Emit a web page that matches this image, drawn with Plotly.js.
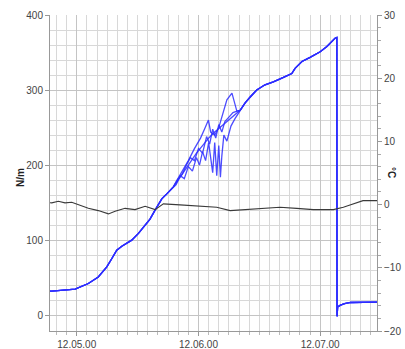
<!DOCTYPE html>
<html>
<head>
<meta charset="utf-8">
<script src="https://cdn.plot.ly/plotly-3.0.1.min.js"></script>
<style>html,body{margin:0;padding:0;background:#fff;}#chart{width:405px;height:349px;}</style>
</head>
<body>
<div id="chart"></div>
<script>
// time in seconds relative to 12.05.00
const xTickVals = [0, 60, 120];
const xTickText = ['12.05.00', '12.06.00', '12.07.00'];

// shared force curve before the branches split (N/m)
const baseT = [-13.2, -12.3, -0.8, 5.7, 10.6, 14.8, 17.3, 19.7, 22.2, 27.1, 30.4, 33.7, 36.1, 38.6, 41.9, 44.5, 47.6];
const baseV = [32, 32, 34.7, 42.3, 51, 64.4, 75.6, 86.7, 92, 100, 109, 120, 128, 140, 155, 162, 171];

// shared force curve after the branches rejoin, incl. the drop
const topT = [80.5, 83, 85.5, 88.7, 92.8, 96.9, 101.9, 106, 107.6, 111, 115, 120, 123.3, 127.3, 128.2, 128.3, 128.6, 130, 132, 135, 140, 148];
const topV = [273, 283, 291, 300, 307, 311, 317, 322, 329, 338, 343.6, 351, 358, 369, 370, -1.5, 11, 13.5, 15.5, 17, 17.6, 17.6];

// branch segments (time, value)
const branchAT = [50, 53, 56, 59, 62, 65, 68, 71, 74, 77, 79];
const branchAV = [180, 192, 205, 216, 226, 236, 244, 251, 258, 265, 270];
const branchBT = [49, 52, 55, 58, 61, 63, 64.9, 66, 68, 70, 72, 74, 76.5, 78.9];
const branchBV = [178, 192, 206, 222, 236, 248, 260, 244, 240, 250, 268, 287, 296, 272];
const branchCT = [49, 51, 53, 55, 57, 59, 60.5, 62, 63.5, 65, 66, 67, 68, 69, 70, 70.8, 71.5, 72.5, 74, 76, 78];
const branchCV = [174, 186, 182, 198, 192, 210, 200, 218, 206, 230, 208, 190, 230, 186, 226, 184, 212, 240, 232, 252, 262];
const branchDT = [50, 52, 54, 56, 58, 60, 62, 64, 65.5, 67, 68.5, 70, 71.5, 73, 75, 77, 79];
const branchDV = [182, 188, 200, 210, 206, 222, 216, 238, 228, 248, 236, 254, 244, 258, 264, 270, 272];

// temperature (°C, right axis)
const tempT = [-13.2, -12.3, -9.1, -5.8, -2.5, 0.8, 5.7, 10.6, 15.6, 18.9, 23.8, 28.7, 33.7, 38.6, 42.7, 50.9, 60.8, 69, 75.6, 82.1, 92, 100.2, 108.4, 116.6, 126.5, 131.4, 134.7, 141.1, 148];
const tempV = [0.3, 0.27, 0.52, 0.27, 0.36, -0.05, -0.59, -0.95, -1.47, -1.06, -0.59, -0.79, -0.27, -0.79, 0.11, -0.05, -0.27, -0.43, -0.95, -0.79, -0.59, -0.43, -0.59, -0.79, -0.79, -0.43, -0.05, 0.63, 0.63];

const branches = [[branchAT, branchAV], [branchBT, branchBV], [branchCT, branchCV], [branchDT, branchDV]];
const blue = 'rgba(45,45,255,0.85)';
const traces = branches.map(([bt, bv]) => ({
  x: baseT.concat(bt, topT),
  y: baseV.concat(bv, topV),
  type: 'scatter', mode: 'lines',
  line: {color: blue, width: 1.3},
  hoverinfo: 'skip', showlegend: false
}));
traces.push({
  x: tempT, y: tempV, yaxis: 'y2',
  type: 'scatter', mode: 'lines',
  line: {color: '#3a3a3a', width: 1.1},
  hoverinfo: 'skip', showlegend: false
});

const font = {family: 'Liberation Sans, Arial, sans-serif', size: 10, color: '#444'};
const layout = {
  width: 405, height: 349,
  margin: {l: 50, r: 28, t: 15, b: 18, pad: 0},
  paper_bgcolor: '#fff', plot_bgcolor: '#fff',
  font: font,
  xaxis: {
    range: [-13.2, 148],
    tickmode: 'array', tickvals: xTickVals, ticktext: xTickText,
    ticks: 'outside', ticklen: 4, tickcolor: '#999',
    showgrid: true, gridcolor: '#c4c4c4', gridwidth: 1,
    showline: true, linecolor: '#999', linewidth: 1,
    zeroline: false, tickfont: font,
    minor: {tick0: 0, dtick: 5, showgrid: true, gridcolor: '#d8d8d8', gridwidth: 1, ticks: 'outside', ticklen: 3, tickcolor: '#bbb'}
  },
  yaxis: {
    range: [-21, 400],
    tickmode: 'linear', tick0: 0, dtick: 100,
    ticks: 'outside', ticklen: 4, tickcolor: '#999',
    showgrid: true, gridcolor: '#c4c4c4', gridwidth: 1,
    showline: true, linecolor: '#999', linewidth: 1,
    zeroline: false, tickfont: font,
    minor: {tick0: 0, dtick: 20, showgrid: true, gridcolor: '#d8d8d8', gridwidth: 1}
  },
  yaxis2: {
    overlaying: 'y', side: 'right',
    range: [-20, 30],
    tickmode: 'linear', tick0: 0, dtick: 10,
    ticks: 'outside', ticklen: 4, tickcolor: '#999',
    showgrid: false, zeroline: false,
    showline: true, linecolor: '#999', linewidth: 1,
    tickfont: font,
    minor: {tick0: 0, dtick: 2, ticks: 'outside', ticklen: 3, tickcolor: '#aaa', showgrid: false}
  },
  annotations: [
    {text: '<b>N/m</b>', xref: 'paper', yref: 'paper', x: -0.092, y: 0.487, showarrow: false, textangle: -90,
     font: {family: 'Liberation Sans, Arial, sans-serif', size: 10, color: '#222'}, xanchor: 'center', yanchor: 'middle'},
    {text: '<b>°C</b>', xref: 'paper', yref: 'paper', x: 1.046, y: 0.503, showarrow: false, textangle: 90,
     font: {family: 'Liberation Sans, Arial, sans-serif', size: 10, color: '#222'}, xanchor: 'center', yanchor: 'middle'}
  ]
};

Plotly.newPlot('chart', traces, layout, {displayModeBar: false, staticPlot: true});
</script>
</body>
</html>
